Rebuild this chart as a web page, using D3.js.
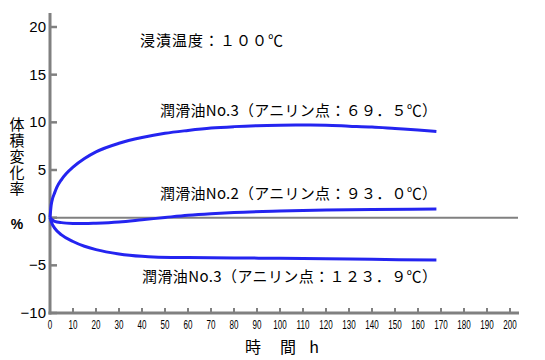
<!DOCTYPE html>
<html lang="ja">
<head>
<meta charset="UTF-8" />
<title>体積変化率</title>
<style>
  html, body { margin: 0; padding: 0; background: #fff; }
  svg { display: block; font-family: "Noto Sans CJK JP", sans-serif; }
</style>
</head>
<body>
<svg id="chart" width="545" height="360"></svg>
<script src="https://d3js.org/d3.v7.min.js"></script>
<script>
  // hours and volume change (%)
  const hoursA = [0, 0.5, 1, 2, 3, 5, 7, 10, 15, 20, 30, 40, 50, 60, 70, 80, 90, 100, 110, 120, 130, 140, 150, 160, 168];
  const oil3Low = [0, 1.3, 1.9, 2.6, 3.2, 4.0, 4.6, 5.3, 6.2, 6.9, 7.8, 8.4, 8.85, 9.15, 9.4, 9.55, 9.65, 9.7, 9.72, 9.7, 9.6, 9.5, 9.35, 9.2, 9.05];
  const hoursB = [0, 1, 2, 5, 10, 15, 20, 30, 40, 50, 60, 70, 80, 100, 120, 140, 168];
  const oil2 = [0, -0.25, -0.38, -0.52, -0.6, -0.62, -0.58, -0.45, -0.22, 0.02, 0.25, 0.42, 0.55, 0.7, 0.8, 0.86, 0.9];
  const hoursC = [0, 1, 2, 5, 10, 15, 20, 30, 40, 45, 60, 80, 100, 120, 140, 168];
  const oil3High = [0, -0.7, -1.1, -1.8, -2.5, -3.0, -3.35, -3.8, -4.05, -4.12, -4.18, -4.22, -4.27, -4.32, -4.37, -4.45];

  const xTicks = d3.range(0, 201, 10);
  const yTicks = [-10, -5, 0, 5, 10, 15, 20];

  const labels = [
    { text: "浸漬温度：１００℃", x: 140, y: 46, len: 143 },
    { text: "潤滑油No.3（アニリン点：６９．５℃）", x: 160, y: 116, len: 277 },
    { text: "潤滑油No.2（アニリン点：９３．０℃）", x: 160, y: 199, len: 277 },
    { text: "潤滑油No.3（アニリン点：１２３．９℃）", x: 142, y: 282, len: 295 }
  ];

  const svg = d3.select("#chart");
  const x = d3.scaleLinear().domain([0, 200]).range([50, 510]);
  const y = d3.scaleLinear().domain([-10, 20]).range([313, 27]);
  const axisColor = "#808080";

  // zero line
  svg.append("line")
    .attr("x1", x(0)).attr("x2", 518)
    .attr("y1", y(0)).attr("y2", y(0))
    .attr("stroke", axisColor).attr("stroke-width", 2);

  // y axis
  svg.append("line")
    .attr("x1", x(0)).attr("x2", x(0))
    .attr("y1", 13).attr("y2", y(-10) + 1.5)
    .attr("stroke", axisColor).attr("stroke-width", 3);
  svg.selectAll(".ytick")
    .data(yTicks).enter().append("line")
    .attr("x1", x(0)).attr("x2", x(0) + 7)
    .attr("y1", d => y(d)).attr("y2", d => y(d))
    .attr("stroke", axisColor).attr("stroke-width", 2.5);
  svg.selectAll(".ylab")
    .data(yTicks).enter().append("text")
    .attr("x", 46).attr("y", d => y(d) + 5)
    .attr("text-anchor", "end")
    .attr("font-family", "Liberation Sans, sans-serif")
    .attr("font-size", 15)
    .text(d => d < 0 ? "\u2212" + Math.abs(d) : d);

  // x axis
  svg.append("line")
    .attr("x1", x(0) - 1.5).attr("x2", 519)
    .attr("y1", y(-10)).attr("y2", y(-10))
    .attr("stroke", axisColor).attr("stroke-width", 3);
  svg.selectAll(".xtick")
    .data(xTicks.slice(1)).enter().append("line")
    .attr("x1", d => x(d)).attr("x2", d => x(d))
    .attr("y1", y(-10)).attr("y2", y(-10) - 5)
    .attr("stroke", axisColor).attr("stroke-width", 2);
  svg.selectAll(".xlab")
    .data(xTicks).enter().append("text")
    .attr("transform", d => `translate(${x(d)},${y(-10) + 16}) scale(0.62,1)`)
    .attr("text-anchor", "middle")
    .attr("font-family", "Liberation Sans, sans-serif")
    .attr("font-size", 13)
    .text(d => d);

  // axis titles
  svg.append("text")
    .attr("x", 17).attr("y", 117)
    .style("writing-mode", "vertical-rl")
    .attr("letter-spacing", 1)
    .attr("font-size", 15)
    .text("体積変化率");
  svg.append("text")
    .attr("x", 17).attr("y", 229)
    .attr("text-anchor", "middle")
    .attr("font-size", 14).attr("font-weight", "bold")
    .attr("font-family", "Liberation Sans, sans-serif")
    .text("%");

  const xTitle = [{ t: "時", x: 253 }, { t: "間", x: 288 }, { t: "h", x: 314 }];
  svg.selectAll(".xtitle")
    .data(xTitle).enter().append("text")
    .attr("x", d => d.x).attr("y", 353)
    .attr("text-anchor", "middle")
    .attr("font-size", 16)
    .text(d => d.t);

  // curves
  const line = d3.line()
    .x(d => x(d[0])).y(d => y(d[1]))
    .curve(d3.curveMonotoneX);
  const series = [
    d3.zip(hoursA, oil3Low),
    d3.zip(hoursB, oil2),
    d3.zip(hoursC, oil3High)
  ];
  svg.selectAll(".curve")
    .data(series).enter().append("path")
    .attr("d", line)
    .attr("fill", "none")
    .attr("stroke", "#2424f0")
    .attr("stroke-width", 3);

  // annotations
  svg.selectAll(".note")
    .data(labels).enter().append("text")
    .attr("x", d => d.x).attr("y", d => d.y)
    .attr("textLength", d => d.len)
    .attr("lengthAdjust", "spacing")
    .attr("font-size", 15)
    .text(d => d.text);
</script>
</body>
</html>
